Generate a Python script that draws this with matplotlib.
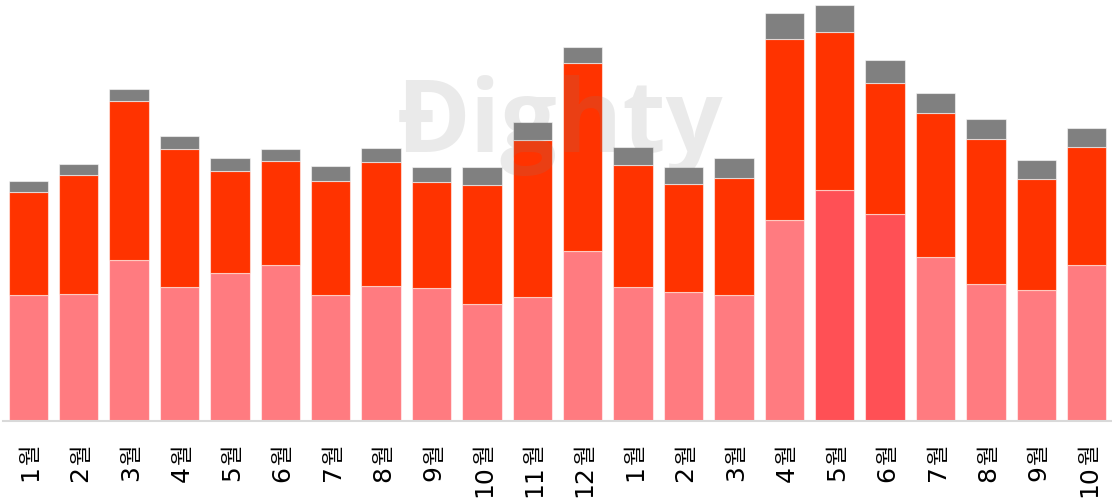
import numpy as np
import matplotlib.pyplot as plt
import matplotlib.transforms as mtransforms

months = ['1', '2', '3', '4', '5', '6', '7', '8', '9', '10', '11', '12',
          '1', '2', '3', '4', '5', '6', '7', '8', '9', '10']
# stacked segment sizes (arbitrary units)
base = [126, 127, 161, 134, 148, 156, 126, 135, 133, 117, 124, 170,
        134, 129, 126, 201, 231, 207, 164, 137, 131, 156]
mid = [103, 119, 159, 138, 102, 104, 114, 124, 106, 119, 157, 188,
       122, 108, 117, 181, 158, 131, 144, 145, 111, 118]
top = [11, 11, 12, 13, 13, 12, 15, 14, 15, 18, 18, 16,
       18, 17, 20, 26, 27, 23, 20, 20, 19, 19]
highlight = [16, 17]

base = np.array(base)
mid = np.array(mid)
top = np.array(top)
x = np.arange(len(months))

fig = plt.figure(figsize=(11.12, 4.98), dpi=100)
ax = fig.add_axes([3/1112, 1 - 421/498, 1109/1112, 421/498])

base_col = ['#FF5055' if i in highlight else '#FF7B80' for i in x]
ec = (1, 1, 1, 0.55)
ax.bar(x, base, width=0.78, color=base_col, edgecolor=ec, linewidth=0.8)
ax.bar(x, mid, bottom=base, width=0.78, color='#FF3300', edgecolor=ec, linewidth=0.8)
ax.bar(x, top, bottom=base + mid, width=0.78, color='#808080', edgecolor=ec, linewidth=0.8)

ax.set_xlim(-0.5, 21.5)
ax.set_ylim(0, 421)
ax.set_yticks([])
ax.set_xticks([])
for s in ['top', 'right', 'left']:
    ax.spines[s].set_visible(False)
ax.spines['bottom'].set_color('#d9d9d9')
ax.spines['bottom'].set_linewidth(1.5)

# month labels: digits + 월, rotated
blend = mtransforms.blended_transform_factory(ax.transData, ax.transAxes)
for i, m in enumerate(months):
    t1 = blend + mtransforms.ScaledTranslation(0.025, -0.225, fig.dpi_scale_trans)
    ax.text(i, 0, '월', rotation=90, ha='center', va='top', fontsize=16,
            family='Noto Sans CJK KR', transform=t1)
    t2 = blend + mtransforms.ScaledTranslation(0.02, -0.445, fig.dpi_scale_trans)
    ax.text(i, 0, m, rotation=90, ha='center', va='top', fontsize=18,
            family='DejaVu Sans', transform=t2)

fig.text(560/1112, 1 - 152/498, 'Đighty', fontsize=72, fontweight='bold', color='#808080',
         alpha=0.16, ha='center', va='baseline', family='Open Sans', zorder=10)

fig.savefig('out.png', dpi=100)
